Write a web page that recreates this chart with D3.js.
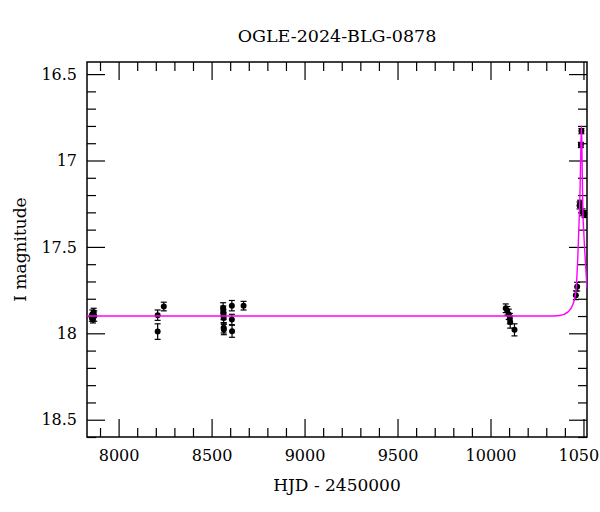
<!DOCTYPE html>
<html>
<head>
<meta charset="utf-8">
<script src="https://cdn.jsdelivr.net/npm/d3@7"></script>
<style>
html,body{margin:0;padding:0;background:#fff;overflow:hidden;}
svg text{font-family:"DejaVu Serif",serif;fill:#000;}
</style>
</head>
<body>
<svg id="chart" width="600" height="512"></svg>
<script>
// ---- data ----
const title = "OGLE-2024-BLG-0878";
const xLabel = "HJD - 2450000";
const yLabel = "I magnitude";
const xTickValues = [8000, 8500, 9000, 9500, 10000, 10500];
const yTickValues = [16.5, 17, 17.5, 18, 18.5];

// observations: HJD-2450000, I mag, error
const obsHJD = [7856, 7859, 7862, 7866, 7869,
                8210, 8210, 8243,
                8562, 8563, 8564, 8565, 8565, 8566, 8609, 8609, 8610, 8672,
                10082, 10090, 10098, 10104, 10106, 10129,
                10459, 10466,
                10479, 10482, 10486, 10489, 10495, 10506];
const obsMag = [17.91, 17.89, 17.92, 17.88, 17.90,
                17.895, 17.99, 17.845,
                17.853, 17.872, 17.891, 17.911, 17.968, 17.978, 17.84, 17.92, 17.988, 17.84,
                17.855, 17.87, 17.89, 17.915, 17.935, 17.98,
                17.78, 17.73,
                17.26, 17.25, 16.91, 16.83, 17.30, 17.31];
const obsErr = [0.02, 0.025, 0.02, 0.025, 0.03,
                0.03, 0.045, 0.025,
                0.03, 0.03, 0.03, 0.03, 0.03, 0.03, 0.03, 0.03, 0.035, 0.025,
                0.025, 0.025, 0.03, 0.03, 0.035, 0.035,
                0.025, 0.025,
                0.02, 0.02, 0.015, 0.015, 0.02, 0.02];

// model curve
const modelHJD = [7830, 10300, 10373, 10417, 10444, 10459, 10468, 10475, 10481, 10485, 10489, 10492, 10496, 10502, 10510, 10519];
const modelMag = [17.90, 17.90, 17.897, 17.876, 17.83, 17.76, 17.60, 17.40, 17.20, 16.98, 16.80, 16.95, 17.25, 17.42, 17.58, 17.74];

// ---- layout ----
const svg = d3.select("#chart");
const L = 87, R = 587, T = 62, B = 437;
const x = d3.scaleLinear().domain([7830, 10519]).range([L, R]);
const y = d3.scaleLinear().domain([16.43, 18.6]).range([T, B]);

svg.append("defs").append("clipPath").attr("id", "clip")
  .append("rect").attr("x", L).attr("y", T).attr("width", R - L).attr("height", B - T);

// ticks (inward on all sides)
const xMinor = d3.range(7900, 10519, 100).filter(v => !xTickValues.includes(v));
const yMinor = d3.range(16.5, 18.6, 0.1).map(v => +v.toFixed(1)).filter(v => !yTickValues.includes(v));

const major = 18, minor = 9;
svg.append("g").attr("transform", `translate(0,${B})`)
  .call(d3.axisBottom(x).tickValues(xTickValues).tickSize(-major).tickFormat(d3.format("d")).tickPadding(13))
  .call(g => g.select(".domain").remove());
svg.append("g").attr("transform", `translate(0,${B})`)
  .call(d3.axisBottom(x).tickValues(xMinor).tickSize(-minor).tickFormat(""))
  .call(g => g.select(".domain").remove());
svg.append("g").attr("transform", `translate(0,${T})`)
  .call(d3.axisTop(x).tickValues(xTickValues).tickSize(-major).tickFormat(""))
  .call(g => g.select(".domain").remove());
svg.append("g").attr("transform", `translate(0,${T})`)
  .call(d3.axisTop(x).tickValues(xMinor).tickSize(-minor).tickFormat(""))
  .call(g => g.select(".domain").remove());

svg.append("g").attr("transform", `translate(${L},0)`)
  .call(d3.axisLeft(y).tickValues(yTickValues).tickSize(-major).tickFormat(d => String(d)).tickPadding(10))
  .call(g => g.select(".domain").remove());
svg.append("g").attr("transform", `translate(${L},0)`)
  .call(d3.axisLeft(y).tickValues(yMinor).tickSize(-minor).tickFormat(""))
  .call(g => g.select(".domain").remove());
svg.append("g").attr("transform", `translate(${R},0)`)
  .call(d3.axisRight(y).tickValues(yTickValues).tickSize(-major).tickFormat(""))
  .call(g => g.select(".domain").remove());
svg.append("g").attr("transform", `translate(${R},0)`)
  .call(d3.axisRight(y).tickValues(yMinor).tickSize(-minor).tickFormat(""))
  .call(g => g.select(".domain").remove());

svg.selectAll(".tick line").attr("stroke", "#000").attr("stroke-width", 1.2);
svg.selectAll(".tick text").attr("font-family", "DejaVu Serif").attr("font-size", 16).attr("fill", "#000");

// frame
svg.append("rect").attr("x", L).attr("y", T).attr("width", R - L).attr("height", B - T)
  .attr("fill", "none").attr("stroke", "#000").attr("stroke-width", 1.5);

// observations
const obs = obsHJD.map((t, i) => ({t, m: obsMag[i], e: obsErr[i]}));
const pts = svg.append("g").attr("clip-path", "url(#clip)");
const cap = 3;
obs.forEach(d => {
  const cx = x(d.t), y1 = y(d.m - d.e), y2 = y(d.m + d.e);
  pts.append("line").attr("x1", cx).attr("x2", cx).attr("y1", y1).attr("y2", y2).attr("stroke", "#000").attr("stroke-width", 1.2);
  pts.append("line").attr("x1", cx - cap).attr("x2", cx + cap).attr("y1", y1).attr("y2", y1).attr("stroke", "#000").attr("stroke-width", 1.2);
  pts.append("line").attr("x1", cx - cap).attr("x2", cx + cap).attr("y1", y2).attr("y2", y2).attr("stroke", "#000").attr("stroke-width", 1.2);
  pts.append("circle").attr("cx", cx).attr("cy", y(d.m)).attr("r", 3).attr("fill", "#000");
});

// model curve
const model = modelHJD.map((t, i) => [t, modelMag[i]]);
svg.append("path").datum(model).attr("clip-path", "url(#clip)")
  .attr("d", d3.line().x(d => x(d[0])).y(d => y(d[1])).curve(d3.curveMonotoneX))
  .attr("fill", "none").attr("stroke", "#ff00ff").attr("stroke-width", 1.4);

// labels
svg.append("text").attr("x", (L + R) / 2).attr("y", 42).attr("text-anchor", "middle")
  .attr("font-size", 17.5).text(title);
svg.append("text").attr("x", (L + R) / 2).attr("y", 491).attr("text-anchor", "middle")
  .attr("font-size", 17).text(xLabel);
svg.append("text").attr("transform", `translate(26,${(T + B) / 2}) rotate(-90)`).attr("text-anchor", "middle")
  .attr("font-size", 17).text(yLabel);
</script>
</body>
</html>
